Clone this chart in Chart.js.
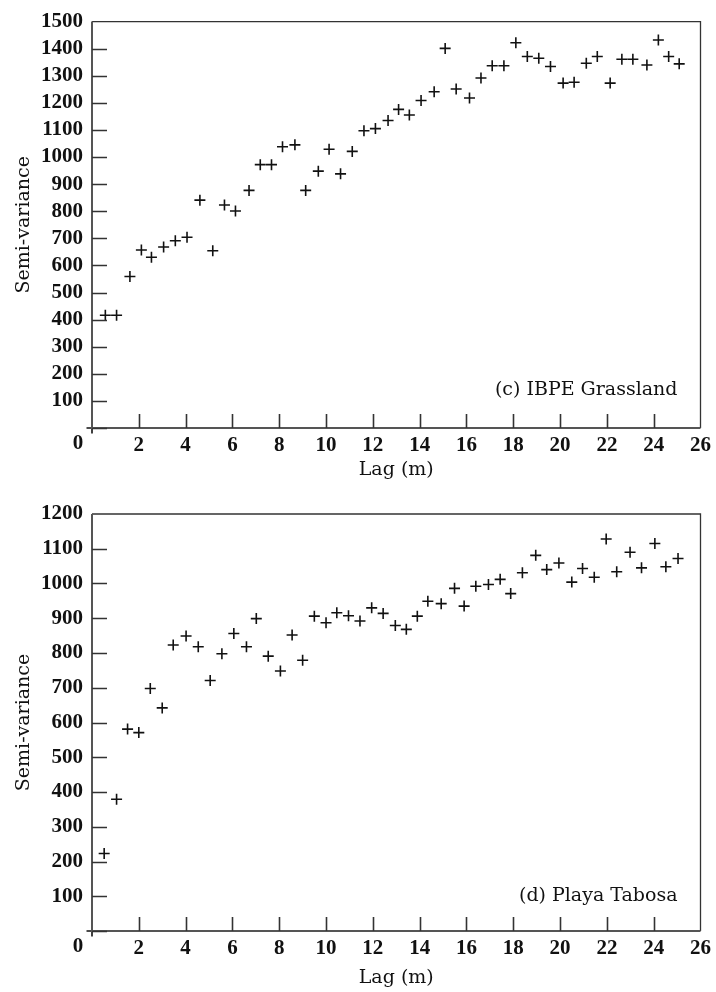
<!DOCTYPE html>
<html>
<head>
<meta charset="utf-8">
<script src="https://cdn.jsdelivr.net/npm/chart.js@4.4.0/dist/chart.umd.min.js"></script>
<style>
  html, body { margin: 0; padding: 0; background: #fff; }
  #wrap { position: relative; width: 716px; height: 992px; }
  .cv { position: absolute; left: 0; }
</style>
</head>
<body>
<div id="wrap">
  <canvas id="chartC" class="cv" style="top:0" width="716" height="490"></canvas>
  <canvas id="chartD" class="cv" style="top:490px" width="716" height="502"></canvas>
</div>
<script>
// (c) IBPE Grassland
const lagC = [0, 0.57, 1.05, 1.62, 2.11, 2.54, 3.06, 3.56, 4.06, 4.61, 5.16, 5.66, 6.13, 6.71, 7.19, 7.67,
  8.14, 8.67, 9.13, 9.67, 10.13, 10.62, 11.12, 11.62, 12.11, 12.65, 13.1, 13.56, 14.06, 14.62, 15.09,
  15.56, 16.13, 16.62, 17.1, 17.6, 18.11, 18.6, 19.09, 19.59, 20.13, 20.6, 21.12, 21.59, 22.14, 22.64,
  23.11, 23.71, 24.2, 24.64, 25.09];
const semiC = [0, 416, 416, 559, 657, 630, 668, 691, 704, 841, 654, 823, 801, 877, 972, 972,
  1038, 1045, 877, 948, 1029, 938, 1021, 1097, 1105, 1135, 1176, 1155, 1209, 1241, 1401,
  1251, 1218, 1292, 1337, 1337, 1422, 1371, 1365, 1334, 1273, 1276, 1346, 1371, 1273, 1361,
  1361, 1340, 1432, 1371, 1344];

// (d) Playa Tabosa
const lagD = [0, 0.52, 1.05, 1.52, 2.0, 2.49, 3.0, 3.47, 4.02, 4.54, 5.05, 5.55, 6.06, 6.6, 7.02, 7.53,
  8.05, 8.55, 9.0, 9.5, 10.0, 10.46, 10.96, 11.45, 11.95, 12.44, 12.96, 13.43, 13.9, 14.35, 14.92,
  15.49, 15.9, 16.4, 16.94, 17.44, 17.89, 18.39, 18.96, 19.43, 19.95, 20.5, 20.96, 21.46, 21.97, 22.42,
  22.99, 23.48, 24.05, 24.52, 25.04];
const semiD = [0, 223, 379, 581, 571, 698, 642, 823, 849, 818, 721, 798, 856, 818, 899, 791,
  748, 852, 779, 906, 887, 916, 907, 892, 930, 914, 879, 868, 906, 949, 942,
  986, 935, 992, 997, 1012, 971, 1031, 1081, 1040, 1059, 1004, 1043, 1018, 1128, 1034,
  1090, 1045, 1115, 1048, 1072];

const xTickStep = 2, xMax = 26, yTickStep = 100;

const tickFont  = { family: 'Liberation Serif', weight: 'bold', size: 21 };
const titleFont = { family: 'DejaVu Serif', size: 19 };

// frame, inward tick marks, offset "0" label and the panel caption
const framePlugin = {
  id: 'frame',
  afterDraw(chart, args, opts) {
    const { ctx, chartArea: a, scales: { x, y } } = chart;
    ctx.save();
    // top + right border
    ctx.strokeStyle = '#333';
    ctx.lineWidth = 1.3;
    ctx.beginPath();
    ctx.moveTo(a.left, a.top); ctx.lineTo(a.right, a.top); ctx.lineTo(a.right, a.bottom);
    ctx.stroke();
    // left + bottom axes
    ctx.strokeStyle = '#555';
    ctx.lineWidth = 2;
    ctx.beginPath();
    ctx.moveTo(a.left, a.top); ctx.lineTo(a.left, a.bottom); ctx.lineTo(a.right, a.bottom);
    ctx.stroke();
    // inward ticks
    ctx.lineWidth = 1.6;
    ctx.strokeStyle = '#333';
    ctx.beginPath();
    y.ticks.forEach(t => {
      if (t.value === y.max) return;
      const py = Math.round(y.getPixelForValue(t.value)) + 0.5;
      ctx.moveTo(a.left, py); ctx.lineTo(a.left + 15, py);
    });
    x.ticks.forEach(t => {
      if (t.value === 0 || t.value === x.max) return;
      const px = Math.round(x.getPixelForValue(t.value)) + 0.5;
      ctx.moveTo(px, a.bottom); ctx.lineTo(px, a.bottom - 14);
    });
    ctx.stroke();
    // "0" label sits left of the axis
    ctx.fillStyle = '#111';
    ctx.font = 'bold 21px "Liberation Serif"';
    ctx.textAlign = 'center';
    ctx.textBaseline = 'top';
    ctx.fillText('0', x.getPixelForValue(0) - 14, a.bottom + 5);
    // caption
    ctx.font = '19px "DejaVu Serif"';
    ctx.textAlign = 'right';
    ctx.textBaseline = 'middle';
    ctx.fillText(opts.caption, a.right - 23, a.bottom - opts.captionUp);
    ctx.restore();
  }
};

function makeChart(id, lags, semi, yMax, pad, xAxisH, xTitlePad, caption, captionUp) {
  return new Chart(document.getElementById(id), {
    type: 'scatter',
    data: {
      datasets: [{
        data: lags.map((l, i) => ({ x: l, y: semi[i] })),
        pointStyle: 'cross',
        pointRadius: 5.5,
        pointHoverRadius: 5.5,
        borderColor: '#111',
        backgroundColor: '#111',
        borderWidth: 1.6,
        clip: false
      }]
    },
    options: {
      responsive: false,
      animation: false,
      events: [],
      layout: { padding: pad },
      plugins: {
        legend: { display: false },
        tooltip: { enabled: false },
        frame: { caption, captionUp }
      },
      scales: {
        x: {
          type: 'linear', min: 0, max: xMax,
          grid: { display: false, drawTicks: false },
          border: { display: false },
          ticks: {
            stepSize: xTickStep, color: '#111', font: tickFont, padding: 5,
            maxRotation: 0, autoSkip: false,
            callback: v => v === 0 ? '' : v
          },
          title: { display: true, text: 'Lag (m)', color: '#111', font: titleFont,
                   padding: { top: 0, bottom: xTitlePad } },
          afterFit: s => { s.height = xAxisH; }
        },
        y: {
          type: 'linear', min: 0, max: yMax,
          grid: { display: false, drawTicks: false },
          border: { display: false },
          ticks: {
            stepSize: yTickStep, color: '#111', font: tickFont, padding: 9,
            autoSkip: false,
            callback: v => v === 0 ? '' : v
          },
          title: { display: true, text: 'Semi-variance', color: '#111', font: titleFont,
                   padding: { top: 13, bottom: 0 } },
          afterFit: s => { s.width = 92; }
        }
      }
    },
    plugins: [framePlugin]
  });
}

makeChart('chartC', lagC, semiC, 1500, { top: 18, right: 13, left: 0, bottom: 0 }, 62, 8.5,
  '(c) IBPE Grassland', 38);
makeChart('chartD', lagD, semiD, 1200, { top: 24, right: 11, left: 0, bottom: 0 }, 61, 2.5,
  '(d) Playa Tabosa', 35);
</script>
</body>
</html>
